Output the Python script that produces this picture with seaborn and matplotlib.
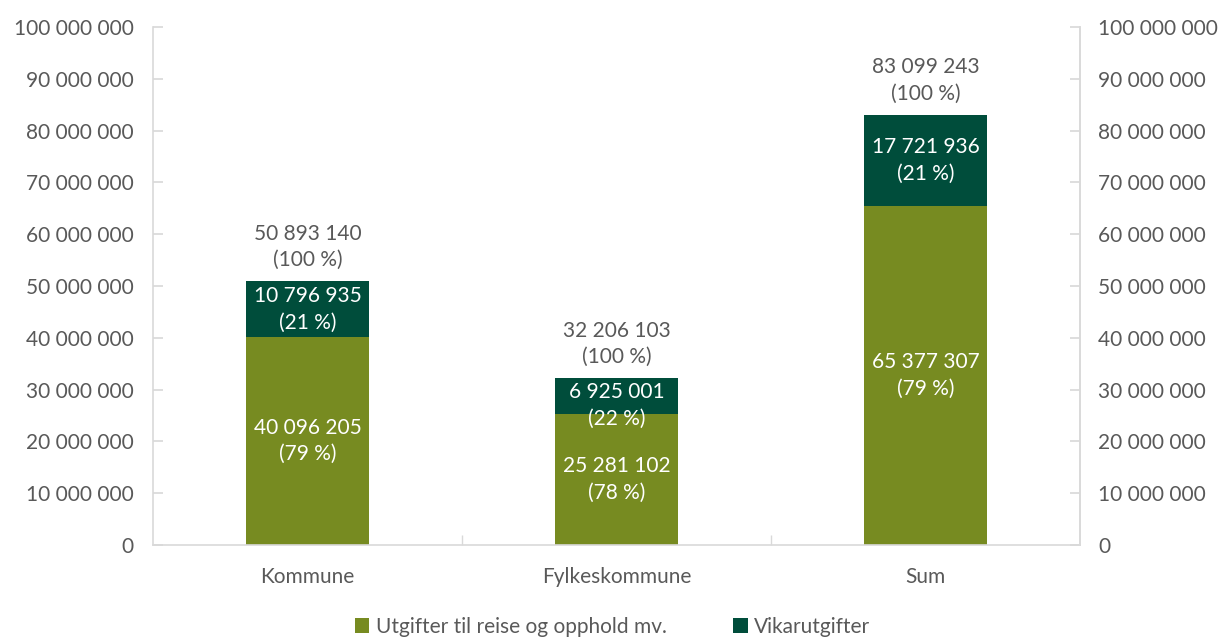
import matplotlib
matplotlib.use("Agg")
import matplotlib.pyplot as plt
import seaborn as sns
import pandas as pd
from matplotlib.ticker import FuncFormatter, MultipleLocator
from matplotlib.patches import Patch

categories = ["Kommune", "Fylkeskommune", "Sum"]
reise = [40096205, 25281102, 65377307]
vikar = [10796935, 6925001, 17721936]
totals = [50893140, 32206103, 83099243]
reise_pct = ["79 %", "78 %", "79 %"]
vikar_pct = ["21 %", "22 %", "21 %"]
total_pct = ["100 %", "100 %", "100 %"]
series_names = ["Utgifter til reise og opphold mv.", "Vikarutgifter"]

sns.set_theme(style="white")
plt.rcParams["font.family"] = ["Lato", "DejaVu Sans"]

C_OLIVE = "#778B21"
C_DARK = "#004D3B"
TXT = "#595959"
AX = "#D9D9D9"
FS = 15

def fmt(v):
    return f"{int(round(v)):,}".replace(",", " ")

fig = plt.figure(figsize=(12.25, 6.39), dpi=100)
ax = fig.add_axes([153/1225, 1-545/639, (1080-153)/1225, (545-27)/639])

df = pd.DataFrame({"cat": categories, "reise": reise, "vikar": vikar, "total": totals})
sns.barplot(data=df, x="cat", y="total", color=C_DARK, width=0.4, ax=ax, saturation=1,
            linewidth=0)
sns.barplot(data=df, x="cat", y="reise", color=C_OLIVE, width=0.4, ax=ax, saturation=1,
            linewidth=0)

ax.set_xlim(-0.5, 2.5)
ax.set_ylim(0, 100_000_000)
ax.yaxis.set_major_locator(MultipleLocator(10_000_000))
ax.yaxis.set_major_formatter(FuncFormatter(lambda v, p: fmt(v)))
ax.set_xlabel("")
ax.set_ylabel("")

ax.spines["top"].set_visible(False)
for s in ["left", "right", "bottom"]:
    ax.spines[s].set_visible(True)
    ax.spines[s].set_color(AX)
    ax.spines[s].set_linewidth(1.2)

ax.tick_params(axis="y", direction="in", length=7, color=AX, labelsize=FS,
               labelcolor=TXT, pad=14, left=True)
ax.tick_params(axis="x", length=0, labelsize=FS, labelcolor=TXT, pad=16)

ax.set_xticks([0, 1, 2], minor=False)
ax.set_xticklabels(categories)
ax.set_xticks([0.5, 1.5], minor=True)
ax.tick_params(axis="x", which="minor", direction="in", length=7, color=AX, bottom=True)

ax2 = ax.twinx()
ax2.set_ylim(ax.get_ylim())
ax2.yaxis.set_major_locator(MultipleLocator(10_000_000))
ax2.yaxis.set_major_formatter(FuncFormatter(lambda v, p: fmt(v)))
ax2.tick_params(axis="y", direction="in", length=7, color=AX, labelsize=FS,
                labelcolor=TXT, pad=13, right=True)
for s in ["top", "left", "bottom"]:
    ax2.spines[s].set_visible(False)
ax2.spines["right"].set_color(AX)
ax2.spines["right"].set_linewidth(1.2)
ax2.grid(False)
ax.grid(False)

for i in range(len(categories)):
    ax.text(i, reise[i] / 2, f"{fmt(reise[i])}\n({reise_pct[i]})", ha="center", va="center",
            color="white", fontsize=FS, linespacing=1.4)
    vlabel = f"{fmt(vikar[i])}\n({vikar_pct[i]})"
    if vikar[i] < 9_000_000:
        # small segment: keep the label's top inside the bar (as Excel does)
        ax.annotate(vlabel, xy=(i, totals[i]), xytext=(0, -3), textcoords="offset points",
                    ha="center", va="top", color="white", fontsize=FS, linespacing=1.4)
    else:
        ax.text(i, reise[i] + vikar[i] / 2, vlabel, ha="center", va="center",
                color="white", fontsize=FS, linespacing=1.4)
    ax.annotate(f"{fmt(totals[i])}\n({total_pct[i]})", xy=(i, totals[i]), xytext=(0, 8),
                textcoords="offset points", ha="center", va="bottom", color=TXT,
                fontsize=FS, linespacing=1.4)

handles = [Patch(facecolor=C_OLIVE, edgecolor="none"), Patch(facecolor=C_DARK, edgecolor="none")]
fig.legend(handles, series_names, loc="center", bbox_to_anchor=(0.5, 1 - 627/639), ncol=2,
           frameon=False, fontsize=FS, labelcolor=TXT, handlelength=0.7, handleheight=0.7,
           handletextpad=0.3, columnspacing=3.2)

fig.savefig("out.png", dpi=100)
